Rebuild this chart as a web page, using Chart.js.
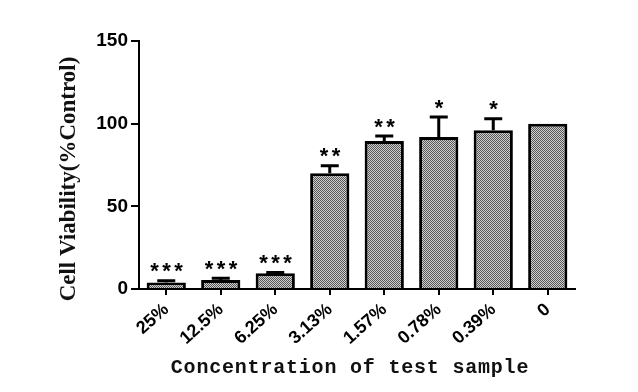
<!DOCTYPE html>
<html>
<head>
<meta charset="utf-8">
<script src="https://cdn.jsdelivr.net/npm/chart.js@4/dist/chart.umd.min.js"></script>
<style>
  html, body { margin: 0; padding: 0; background: #fff; }
  #wrap { width: 638px; height: 392px; }
</style>
</head>
<body>
<div id="wrap"><canvas id="cv" width="638" height="392"></canvas></div>
<script>
/* ── data ─────────────────────────────────────────── */
const concentrations = ['25%','12.5%','6.25%','3.13%','1.57%','0.78%','0.39%','0'];
const viability      = [4, 5.5, 9.5, 70, 89.5, 92, 96, 100];
const errUp          = [1, 1, 0.5, 4.5, 3, 12, 7, 0];
const signif         = ['***','***','***','**','**','*','*',''];
const yTicks         = [0, 50, 100, 150];

const yTitle = 'Cell Viability(%Control)';
const xTitle = 'Concentration of test sample';

/* checkered grey fill like the print */
function checker() {
  const p = document.createElement('canvas');
  p.width = 2; p.height = 2;
  const g = p.getContext('2d');
  g.fillStyle = '#d0d0d0'; g.fillRect(0, 0, 2, 2);
  g.fillStyle = '#555'; g.fillRect(0, 0, 1, 1); g.fillRect(1, 1, 1, 1);
  return g.createPattern(p, 'repeat');
}

/* error caps + significance stars + axis titles */
const extras = {
  id: 'extras',
  afterDatasetsDraw(chart) {
    const ctx = chart.ctx, y = chart.scales.y;
    const meta = chart.getDatasetMeta(0);
    ctx.save();
    ctx.strokeStyle = '#000';
    ctx.lineWidth = 3;
    ctx.fillStyle = '#000';
    ctx.font = 'bold 22px "Liberation Sans", Arial, sans-serif';
    ctx.letterSpacing = '3.5px';
    meta.data.forEach((bar, i) => {
      const top = y.getPixelForValue(viability[i] + errUp[i]);
      if (errUp[i] > 0) {
        ctx.beginPath();
        ctx.moveTo(bar.x, bar.y);
        ctx.lineTo(bar.x, top);
        ctx.moveTo(bar.x - 9, top);
        ctx.lineTo(bar.x + 9, top);
        ctx.stroke();
      }
      if (signif[i]) {
        const m = ctx.measureText(signif[i]);
        const cy = top - 13;
        const base = cy + (m.actualBoundingBoxAscent - m.actualBoundingBoxDescent) / 2;
        ctx.textAlign = 'center';
        ctx.fillText(signif[i], bar.x + 2, base);
      }
    });
    ctx.restore();
  },
  afterDraw(chart) {
    const ctx = chart.ctx;
    ctx.save();
    ctx.fillStyle = '#111';
    // y title, rotated
    ctx.translate(69, 179);
    ctx.rotate(-Math.PI / 2);
    ctx.textAlign = 'center';
    ctx.textBaseline = 'middle';
    ctx.font = 'bold 23px "Liberation Serif", "Times New Roman", serif';
    ctx.fillText(yTitle, 0, 0);
    ctx.restore();

    ctx.save();
    ctx.fillStyle = '#111';
    ctx.textAlign = 'center';
    ctx.textBaseline = 'middle';
    ctx.font = 'bold 20px "Liberation Mono", "Courier New", monospace';
    ctx.letterSpacing = '0.8px';
    ctx.fillText(xTitle, 350, 368);
    ctx.restore();
  }
};

const ctx = document.getElementById('cv').getContext('2d');
new Chart(ctx, {
  type: 'bar',
  data: {
    labels: concentrations,
    datasets: [{
      data: viability,
      backgroundColor: checker(),
      borderColor: '#000',
      borderWidth: 3,
      borderSkipped: 'bottom',
      barPercentage: 0.72,
      categoryPercentage: 1
    }]
  },
  options: {
    responsive: false,
    animation: false,
    layout: { padding: { top: 41, right: 63, left: 0, bottom: 0 } },
    plugins: { legend: { display: false }, tooltip: { enabled: false } },
    scales: {
      x: {
        offset: true,
        border: { display: true, color: '#000', width: 2 },
        grid: { display: true, drawOnChartArea: false, offset: false, color: '#000', lineWidth: 2, tickLength: 6 },
        ticks: {
          color: '#000', minRotation: 42, maxRotation: 42, padding: 4,
          font: { family: '"Liberation Sans", Arial, sans-serif', size: 18, weight: 'bold' }
        },
        afterFit(s) { s.height = 103; }
      },
      y: {
        min: 0, max: 150,
        afterBuildTicks(s) { s.ticks = yTicks.map(v => ({ value: v })); },
        border: { display: true, color: '#000', width: 2 },
        grid: { display: true, drawOnChartArea: false, color: '#000', lineWidth: 2, tickLength: 8 },
        ticks: {
          color: '#000', padding: 3,
          font: { family: '"Liberation Sans", Arial, sans-serif', size: 19, weight: 'bold' }
        },
        afterFit(s) { s.width = 139; }
      }
    }
  },
  plugins: [extras]
});
</script>
</body>
</html>
